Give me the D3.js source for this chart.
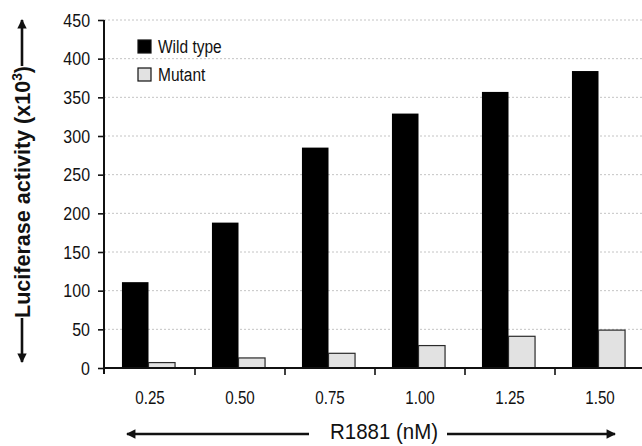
<!DOCTYPE html>
<html>
<head>
<meta charset="utf-8">
<script src="https://cdn.jsdelivr.net/npm/d3@7"></script>
<style>
  body { margin: 0; background: #fff; }
  svg { display: block; }
  text { font-family: "Liberation Sans", Arial, sans-serif; fill: #111; }
</style>
</head>
<body>
<div id="chart"></div>
<script>
// data
const doses = ["0.25", "0.50", "0.75", "1.00", "1.25", "1.50"];
const wildType = [111, 188, 285, 329, 357, 384];
const mutant = [7, 13, 19, 29, 41, 49];
const seriesNames = ["Wild type", "Mutant"];
const seriesColors = ["#000000", "#e2e2e2"];
const yTicks = [0, 50, 100, 150, 200, 250, 300, 350, 400, 450];

const width = 642, height = 446;
const plot = { left: 104, right: 645, top: 20, bottom: 368 };

// no narrow font installed, so squeeze the glyphs a bit
const narrow = (sel, f) => sel.each(function () {
  const w = this.getComputedTextLength();
  d3.select(this).attr("textLength", w * f).attr("lengthAdjust", "spacingAndGlyphs");
});

const svg = d3.select("#chart").append("svg")
  .attr("width", width)
  .attr("height", height);

const yScale = d3.scaleLinear()
  .domain([0, 450])
  .range([plot.bottom, plot.top]);

const xScale = d3.scaleBand()
  .domain(doses)
  .range([plot.left + 1, plot.right])
  .paddingInner(0.41)
  .paddingOuter(0.205);

const xSeries = d3.scaleBand()
  .domain(seriesNames)
  .range([0, xScale.bandwidth()]);

// dotted gridlines
svg.append("g")
  .selectAll("line")
  .data(yTicks.filter(d => d > 0))
  .join("line")
  .attr("x1", plot.left)
  .attr("x2", width)
  .attr("y1", d => yScale(d))
  .attr("y2", d => yScale(d))
  .attr("stroke", "#c4c4c4")
  .attr("stroke-width", 1)
  .attr("stroke-dasharray", "2,2");

// bars
const rows = doses.map((d, i) => ({ dose: d, values: [wildType[i], mutant[i]] }));
const groups = svg.append("g")
  .selectAll("g")
  .data(rows)
  .join("g")
  .attr("transform", d => "translate(" + (xScale(d.dose) - 1.5) + ",0)");

groups.selectAll("rect")
  .data(d => d.values.map((v, j) => ({ key: seriesNames[j], value: v, j: j })))
  .join("rect")
  .attr("x", d => xSeries(d.key))
  .attr("y", d => yScale(d.value))
  .attr("width", xSeries.bandwidth())
  .attr("height", d => yScale(0) - yScale(d.value))
  .attr("fill", d => seriesColors[d.j])
  .attr("stroke", d => d.j === 1 ? "#2a2a2a" : "none")
  .attr("stroke-width", 1.2);

// y axis
const yAxis = d3.axisLeft(yScale)
  .tickValues(yTicks)
  .tickSize(6)
  .tickPadding(8)
  .tickSizeOuter(0);

const yG = svg.append("g")
  .attr("transform", "translate(" + plot.left + ",0)")
  .call(yAxis);
yG.select(".domain").remove();
yG.selectAll(".tick line").attr("stroke", "#111").attr("stroke-width", 1.6);
yG.selectAll(".tick text").attr("font-size", 19).attr("fill", "#222").call(narrow, 0.84);
yG.append("line")
  .attr("x1", 0).attr("x2", 0)
  .attr("y1", plot.top).attr("y2", plot.bottom + 6)
  .attr("stroke", "#111").attr("stroke-width", 2);

// x axis: labels centred, tick marks between groups
const xAxis = d3.axisBottom(xScale)
  .tickSize(0)
  .tickPadding(23);
const xG = svg.append("g")
  .attr("transform", "translate(0," + plot.bottom + ")")
  .call(xAxis);
xG.select(".domain").remove();
xG.selectAll(".tick text").attr("font-size", 19).attr("fill", "#222").call(narrow, 0.8);

xG.append("line")
  .attr("x1", plot.left).attr("x2", width)
  .attr("y1", 0).attr("y2", 0)
  .attr("stroke", "#111").attr("stroke-width", 2);

const step = xScale.step();
xG.selectAll(".sep")
  .data(d3.range(1, doses.length))
  .join("line")
  .attr("class", "sep")
  .attr("x1", i => plot.left + 1 + i * step)
  .attr("x2", i => plot.left + 1 + i * step)
  .attr("y1", 0).attr("y2", 7)
  .attr("stroke", "#111").attr("stroke-width", 1.6);

// legend
const legend = svg.append("g").attr("transform", "translate(138,40)");
seriesNames.forEach((name, i) => {
  legend.append("rect")
    .attr("x", 0).attr("y", i * 28)
    .attr("width", 13).attr("height", 13)
    .attr("fill", seriesColors[i])
    .attr("stroke", "#111").attr("stroke-width", 1.2);
  legend.append("text")
    .attr("x", 20).attr("y", i * 28 + 7)
    .attr("dy", "0.35em")
    .attr("font-size", 18)
    .text(name)
    .call(narrow, 0.86);
});

// arrowheads
const defs = svg.append("defs");
defs.append("marker")
  .attr("id", "arrow")
  .attr("viewBox", "0 0 10 10")
  .attr("refX", 9).attr("refY", 5)
  .attr("markerWidth", 4).attr("markerHeight", 3.6)
  .attr("markerUnits", "strokeWidth")
  .attr("orient", "auto")
  .append("path")
  .attr("d", "M0,0L10,5L0,10Z")
  .attr("fill", "#111");

// x title with arrows
svg.append("text")
  .attr("x", 384).attr("y", 431)
  .attr("dy", "0.35em")
  .attr("text-anchor", "middle")
  .attr("font-size", 22)
  .attr("textLength", 108)
  .attr("lengthAdjust", "spacingAndGlyphs")
  .text("R1881 (nM)");
svg.append("line")
  .attr("x1", 309).attr("y1", 434).attr("x2", 127).attr("y2", 434)
  .attr("stroke", "#111").attr("stroke-width", 2.6)
  .attr("marker-end", "url(#arrow)");
svg.append("line")
  .attr("x1", 447).attr("y1", 434).attr("x2", 615).attr("y2", 434)
  .attr("stroke", "#111").attr("stroke-width", 2.6)
  .attr("marker-end", "url(#arrow)");

// y title with arrows
const yTitle = svg.append("text")
  .attr("transform", "translate(22,192) rotate(-90)")
  .attr("text-anchor", "middle")
  .attr("dy", "0.35em")
  .attr("font-size", 22)
  .attr("font-weight", "bold")
  .attr("textLength", 252)
  .attr("lengthAdjust", "spacingAndGlyphs");
yTitle.append("tspan").text("Luciferase activity (x10");
yTitle.append("tspan").attr("baseline-shift", "super").attr("font-size", 14).text("3");
yTitle.append("tspan").text(")");

svg.append("line")
  .attr("x1", 22).attr("y1", 66).attr("x2", 22).attr("y2", 20)
  .attr("stroke", "#111").attr("stroke-width", 2.6)
  .attr("marker-end", "url(#arrow)");
svg.append("line")
  .attr("x1", 22).attr("y1", 318).attr("x2", 22).attr("y2", 362)
  .attr("stroke", "#111").attr("stroke-width", 2.6)
  .attr("marker-end", "url(#arrow)");
</script>
</body>
</html>
